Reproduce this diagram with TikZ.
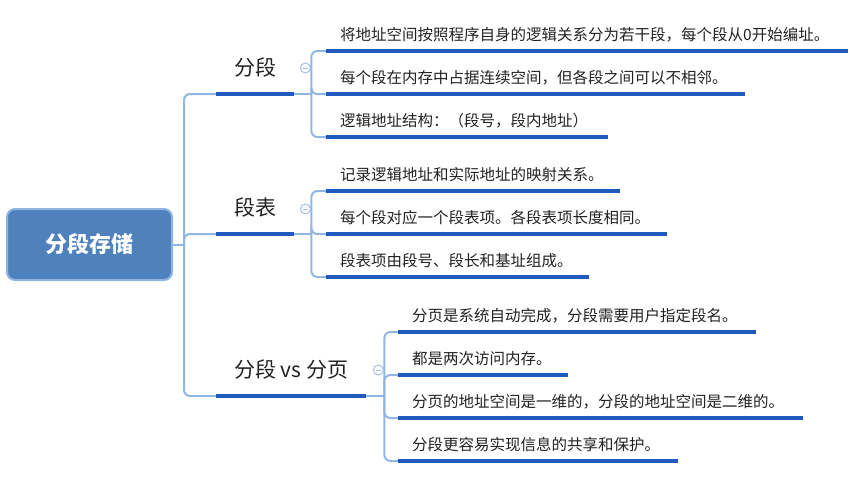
\documentclass[tikz,border=0pt]{standalone}
\usepackage{fontspec}
\setmainfont{Noto Sans CJK SC}
\definecolor{rootblue}{RGB}{79,129,189}
\definecolor{rimblue}{RGB}{141,180,226}
\definecolor{linkblue}{RGB}{146,182,228}
\definecolor{barblue}{RGB}{33,90,190}
\definecolor{foldgray}{RGB}{167,191,227}
\definecolor{inkgray}{RGB}{34,34,34}
\tikzset{
  rootbox/.style={draw=rimblue, line width=2pt, fill=rootblue, rounded corners=8pt,
    minimum width=165pt, minimum height=71pt, text=white,
    font=\fontsize{22pt}{26pt}\selectfont\bfseries},
  link/.style={draw=linkblue, line width=2pt, rounded corners=6pt},
  bar/.style={draw=barblue, line width=4.5pt},
  topic/.style={anchor=south west, inner xsep=0pt, inner ysep=0pt, minimum width=#1,
    text height=15pt, text depth=18pt, text=inkgray, font=\fontsize{21pt}{24pt}\selectfont},
  leaf/.style={anchor=south west, inner xsep=14pt, inner ysep=0pt, text width=#1,
    align=left, text height=12pt, text depth=10pt, text=inkgray,
    font=\fontsize{15.5pt}{18pt}\selectfont},
  fold/.style={circle, draw=foldgray, fill=white, line width=1pt, minimum size=10pt,
    inner sep=0pt, path picture={\draw[foldgray, line width=1pt]
      ([xshift=-2.5pt]path picture bounding box.center) --
      ([xshift=2.5pt]path picture bounding box.center);}},
}
\begin{document}
\begin{tikzpicture}[x=1pt, y=-1pt]
    \useasboundingbox (0,0) rectangle (853,483);
    % central topic
    \node[rootbox] (root) at (89.5,244.5) {分段存储};
    \coordinate (trunk) at (184,244.5);
    % main topics
    \node[topic=78pt] (t1) at (216,94) {分段};
    \node[topic=78pt] (t2) at (216,234) {段表};
    \node[topic=150pt] (t3) at (216,396) {分段 vs 分页};
    \coordinate (s1) at ([xshift=17pt]t1.south east);
    \coordinate (s2) at ([xshift=17pt]t2.south east);
    \coordinate (s3) at ([xshift=18pt]t3.south east);
    % subtopics
    \node[leaf=494pt] (l11) at (326,51) {将地址空间按照程序自身的逻辑关系分为若干段，每个段从0开始编址。};
    \node[leaf=391pt] (l12) at (326,94) {每个段在内存中占据连续空间，但各段之间可以不相邻。};
    \node[leaf=254pt] (l13) at (326,137) {逻辑地址结构：（段号，段内地址）};
    \node[leaf=266pt] (l21) at (326,191) {记录逻辑地址和实际地址的映射关系。};
    \node[leaf=313pt] (l22) at (326,234) {每个段对应一个段表项。各段表项长度相同。};
    \node[leaf=235pt] (l23) at (326,277) {段表项由段号、段长和基址组成。};
    \node[leaf=330pt] (l31) at (398,332) {分页是系统自动完成，分段需要用户指定段名。};
    \node[leaf=142pt] (l32) at (398,375) {都是两次访问内存。};
    \node[leaf=377pt] (l33) at (398,418) {分页的地址空间是一维的，分段的地址空间是二维的。};
    \node[leaf=252pt] (l34) at (398,461) {分段更容易实现信息的共享和保护。};
    % connectors
    \draw[link] (root.east) -- (trunk);
    \foreach \t in {t1,t2,t3}
        \draw[link] (trunk) |- (\t.south west);
    \draw[link] (t1.south east) -- (s1);
    \draw[link] (t2.south east) -- (s2);
    \draw[link] (t3.south east) -- (s3);
    \foreach \l in {l11,l12,l13}
        \draw[link] (s1) |- (\l.south west);
    \foreach \l in {l21,l22,l23}
        \draw[link] (s2) |- (\l.south west);
    \foreach \l in {l31,l32,l33,l34}
        \draw[link] (s3) |- (\l.south west);
    % underlines
    \foreach \n in {t1,t2,t3,l11,l12,l13,l21,l22,l23,l31,l32,l33,l34}
        \draw[bar] (\n.south west) -- (\n.south east);
    % collapse buttons
    \node[fold] (f1) at ([xshift=-6pt,yshift=26pt]s1) {};
    \node[fold] (f2) at ([xshift=-6pt,yshift=25pt]s2) {};
    \node[fold] (f3) at ([xshift=-6pt,yshift=26pt]s3) {};
\end{tikzpicture}
\end{document}
